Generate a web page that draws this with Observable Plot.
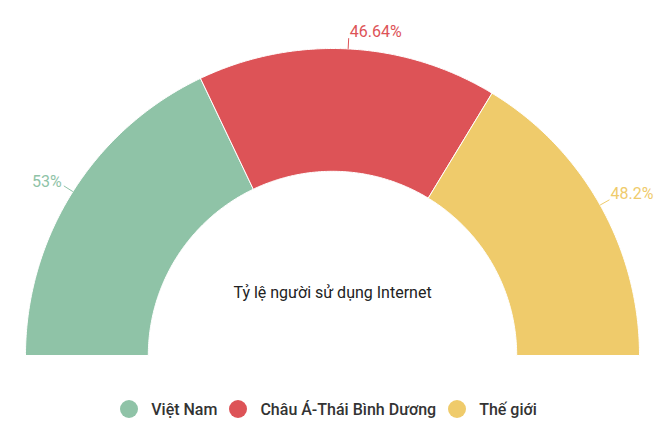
<!DOCTYPE html>
<html>
<head>
<meta charset="utf-8">
<script src="https://cdn.jsdelivr.net/npm/d3@7"></script>
<script src="https://cdn.jsdelivr.net/npm/@observablehq/plot@0.6"></script>
<style>
  body { margin: 0; background: #fff; font-family: Roboto, "Noto Sans", sans-serif; }
  #chart { width: 669px; }
  .legend { display: flex; justify-content: center; align-items: center; margin-top: 14px; height: 20px; font-size: 16px; font-weight: 500; color: #333; padding-right: 12px; }
  .legend .item { display: flex; align-items: center; margin: 0 6px; }
  .legend .sw { width: 18px; height: 18px; border-radius: 50%; margin-right: 13px; }
</style>
</head>
<body>
<div id="chart"></div>
<script>
const categories = ["Việt Nam", "Châu Á-Thái Bình Dương", "Thế giới"];
const values = [53, 46.64, 48.2];
const labels = ["53%", "46.64%", "48.2%"];
const colors = ["#8fc3a7", "#dd5357", "#efcb6b"];
const centerTitle = "Tỷ lệ người sử dụng Internet";

const innerR = 0.6, outerR = 1;
const pie = d3.pie().sort(null).startAngle(-Math.PI / 2).endAngle(Math.PI / 2)(values);

const pts = [];
pie.forEach((a, i) => {
  const n = 120;
  for (let k = 0; k <= n; k++) {
    const t = a.startAngle + (a.endAngle - a.startAngle) * k / n;
    pts.push({key: categories[i], x: outerR * Math.sin(t), y: outerR * Math.cos(t)});
  }
  for (let k = n; k >= 0; k--) {
    const t = a.startAngle + (a.endAngle - a.startAngle) * k / n;
    pts.push({key: categories[i], x: innerR * Math.sin(t), y: innerR * Math.cos(t)});
  }
  pts.push({key: categories[i], x: outerR * Math.sin(a.startAngle), y: outerR * Math.cos(a.startAngle)});
});

const lab = pie.map((a, i) => {
  const m = (a.startAngle + a.endAngle) / 2;
  return {key: categories[i], label: labels[i], color: colors[i],
    x1: Math.sin(m), y1: Math.cos(m), x2: 1.035 * Math.sin(m), y2: 1.035 * Math.cos(m),
    anchor: Math.sin(m) >= 0 ? "start" : "end"};
});

const chart = Plot.plot({
  width: 669, height: 385,
  marginLeft: 25, marginRight: 30, marginTop: 48, marginBottom: 30,
  x: {domain: [-1, 1], axis: null},
  y: {domain: [0, 1], axis: null},
  color: {domain: categories, range: colors},
  style: {fontFamily: "Roboto, 'Noto Sans', sans-serif", background: "#fff", overflow: "visible"},
  marks: [
    Plot.line(pts, {x: "x", y: "y", z: "key", fill: "key", stroke: "#fff", strokeWidth: 1, curve: "linear"}),
    Plot.link(lab, {x1: "x1", y1: "y1", x2: "x2", y2: "y2", stroke: d => d.color, strokeWidth: 1}),
    Plot.text(lab.filter(d => d.anchor === "start"), {x: "x2", y: "y2", text: "label", fill: d => d.color, textAnchor: "start", dx: 1, dy: -6, fontSize: 16}),
    Plot.text(lab.filter(d => d.anchor === "end"), {x: "x2", y: "y2", text: "label", fill: d => d.color, textAnchor: "end", dx: -2, dy: -4, fontSize: 16}),
    Plot.text([centerTitle], {x: 0, y: 0.205, text: d => d, fill: "#222", fontSize: 16})
  ]
});
document.getElementById("chart").appendChild(chart);

const legend = document.createElement("div");
legend.className = "legend";
categories.forEach((c, i) => {
  const it = document.createElement("div");
  it.className = "item";
  const sw = document.createElement("span");
  sw.className = "sw";
  sw.style.background = colors[i];
  const tx = document.createElement("span");
  tx.textContent = c;
  it.appendChild(sw); it.appendChild(tx);
  legend.appendChild(it);
});
document.getElementById("chart").appendChild(legend);
</script>
</body>
</html>
